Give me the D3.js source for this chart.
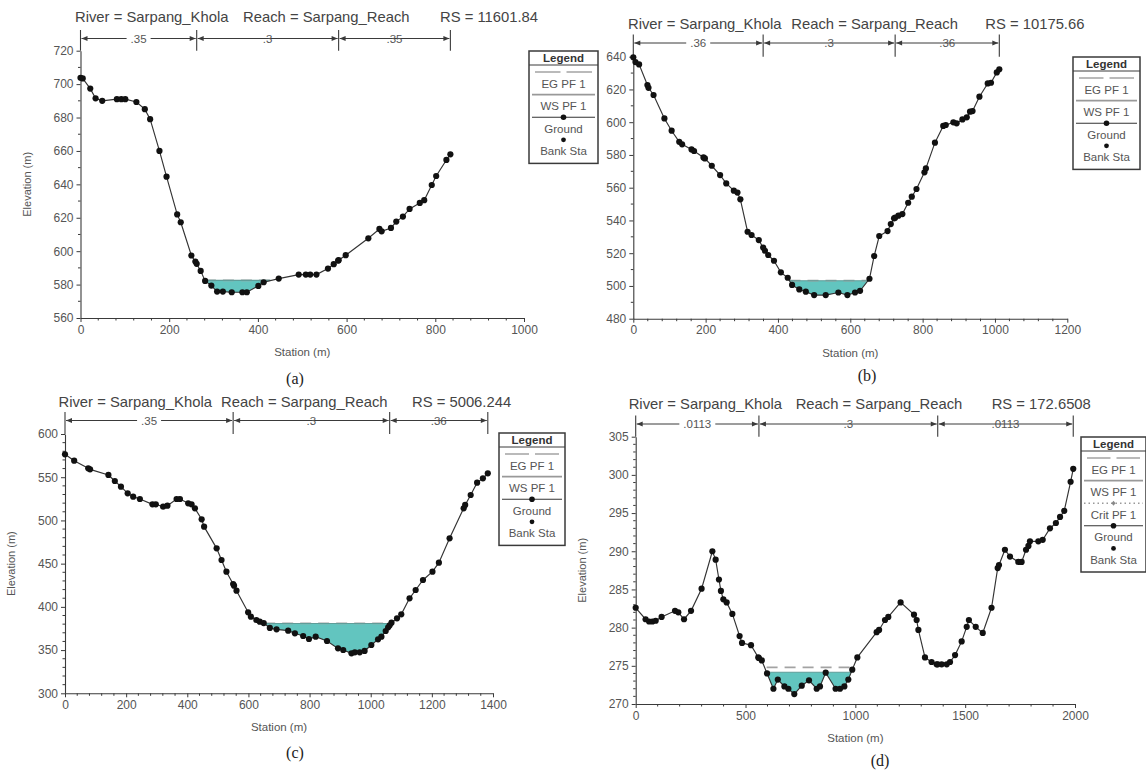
<!DOCTYPE html>
<html>
<head>
<meta charset="utf-8">
<script src="https://cdn.jsdelivr.net/npm/d3@7"></script>
<style>
  html, body { margin: 0; padding: 0; background: #fff; }
  svg { display: block; }
  text { font-family: "Liberation Sans", Arial, "DejaVu Sans", sans-serif; }
</style>
</head>
<body>
<svg id="chart" width="1146" height="771"></svg>
<script>
// ---------------- DATA ----------------
const riverName = "Sarpang_Khola";
const reachName = "Sarpang_Reach";
const rsValues = ["11601.84", "10175.66", "5006.244", "172.6508"];
const captions = ["(a)", "(b)", "(c)", "(d)"];

const stationA = [0,5,22,34,49,82,92,101,126,145,157,178,194,218,226,250,259,271,281,295,308,321,341,365,375,401,413,447,492,508,518,532,558,571,581,598,649,674,679,700,712,727,742,765,775,792,802,825,834];
const elevA = [703.8,703.4,697.3,691.5,690,691,691,691,689.3,685,679,660,644.6,622,617.3,597.4,593.8,588.2,582.2,579.4,575.8,575.8,575.4,575.4,575.4,579.2,581.4,583.6,586,586,586,586,589.6,592.2,594.4,597.6,607.7,613.3,611.9,613.9,617.7,620.7,625.3,628.9,630.5,639.6,645,654.6,658];

const stationB = [0,6,16,39,42,56,86,106,127,135,161,168,194,198,217,240,257,278,288,296,316,327,347,364,373,389,408,427,439,459,477,500,532,567,592,613,627,653,666,680,703,712,721,733,744,760,770,783,805,809,834,857,864,885,894,910,922,931,938,957,980,989,1005,1012];
const elevB = [639.6,636.7,635.3,622.7,621,616.6,602.3,594.8,588,586.5,583.4,582.4,578.5,577.9,573.4,567.7,562.6,558.2,557,552.9,533.1,531.1,528,521.5,518.9,515.4,508.3,505,500.6,497.9,496.5,494.4,494.4,496,494.4,496,497,504.4,518.3,530.5,533.5,537.8,541.3,542.9,543.9,550.8,554.5,559.2,569.4,571.8,587.5,597.7,598.3,599.9,599.3,601.7,603,606.4,606.8,615.6,623.7,624.1,630.4,632.3];

const stationC = [0,30,76,82,142,163,183,205,223,245,286,297,321,335,365,376,403,414,425,447,455,496,512,528,553,561,599,608,626,637,650,670,692,730,752,779,798,820,857,893,910,937,948,964,980,1002,1024,1035,1049,1057,1068,1086,1100,1127,1147,1171,1202,1223,1258,1304,1309,1327,1348,1367,1383];
const elevC = [576.5,569.1,560.3,559.1,552.6,545.6,539.1,531.4,527.5,524.8,518.6,518.6,515.9,517.1,524.8,524.8,519.8,518.6,514,501.3,492.8,467.7,454.2,440.7,424.5,418.7,393.7,388.7,384.8,382.9,381.2,375.6,374,372.5,369.4,366.3,362.8,365.5,360.5,352,350.1,346.2,347.4,347.4,349,355.9,362.4,365.5,372.1,376.3,381.7,386.7,391.4,409.9,419.5,431.1,440.7,451.1,479.3,514,517.9,529.4,543.7,548.7,554.5];

const stationD = [0,45,61,76,91,118,179,194,220,252,300,349,364,379,388,399,414,440,473,484,525,558,574,598,627,647,677,695,722,756,789,824,839,865,910,930,950,968,986,1009,1097,1108,1135,1150,1206,1267,1279,1287,1317,1347,1370,1393,1416,1431,1454,1484,1507,1517,1548,1580,1620,1648,1654,1681,1704,1742,1757,1777,1788,1795,1833,1853,1886,1913,1932,1951,1980,1992];
const elevD = [282.6,281.1,280.8,280.8,280.9,281.4,282.2,282,281.1,282.2,285.1,290,288.9,286.3,284.8,283.7,283.3,281.8,278.9,278,277.7,276.1,275.7,274,272,273.2,272.3,272,271.3,272.4,273.1,272,272.3,274.1,272,272,272.3,273.2,274.5,276.1,279.4,279.7,281,281.4,283.3,281.7,281,279.7,276.1,275.5,275.2,275.2,275.2,275.5,276.4,278.2,280.1,281,280.1,279.3,282.6,287.8,288.2,290.2,289.3,288.6,288.6,290.2,290.7,291.3,291.3,291.5,293,293.7,294.5,295.3,299.1,300.8];

const wsElev = [582.5, 503.2, 380.8, 274.15];   // WS PF 1
const egElev = [582.55, 503.25, 380.85, 274.8]; // EG PF 1

const bankA = [262, 582];
const bankB = [359, 724];
const bankC = [550, 1062];
const bankD = [561, 1375];

const manningA = [".35", ".3", ".35"];
const manningB = [".36", ".3", ".36"];
const manningC = [".35", ".3", ".36"];
const manningD = [".0113", ".3", ".0113"];

const xTicksA = [0,200,400,600,800,1000];
const xTicksB = [0,200,400,600,800,1000,1200];
const xTicksC = [0,200,400,600,800,1000,1200,1400];
const xTicksD = [0,500,1000,1500,2000];
const yTicksA = [560,580,600,620,640,660,680,700,720];
const yTicksB = [480,500,520,540,560,580,600,620,640];
const yTicksC = [300,350,400,450,500,550,600];
const yTicksD = [270,275,280,285,290,295,300,305];

const legendItemsABC = ["EG PF 1", "WS PF 1", "Ground", "Bank Sta"];
const legendItemsD = ["EG PF 1", "WS PF 1", "Crit PF 1", "Ground", "Bank Sta"];

// ---------------- LAYOUT / STYLE ----------------
const layouts = [
  {x0:80.5, x1:524, yB:318, yT:50.7, titleY:17, titleDx:[-5.5,162.5,359.5], brY:38.5, leg:[529,51,69], capX:295, capY:378, xMinor:40, yMinor:10, yLabel:true},
  {x0:633.3, x1:1067.3, yB:318.7, yT:56.7, titleY:24, titleDx:[-5.3,158,352], brY:43, leg:[1073,57,67], capX:867, capY:375, xMinor:40, yMinor:10, yLabel:false},
  {x0:65, x1:493, yB:693.3, yT:434, titleY:402, titleDx:[-6.5,156,347], brY:420.5, leg:[499,433,66], capX:295, capY:752, xMinor:40, yMinor:10, yLabel:true},
  {x0:635.7, x1:1075, yB:704, yT:436.7, titleY:404, titleDx:[-7,160,356], brY:424, leg:[1081,437,65], capX:880, capY:760, xMinor:100, yMinor:1, yLabel:true}
];

const panels = [
  {st:stationA, el:elevA, banks:bankA, n:manningA, xt:xTicksA, yt:yTicksA, legend:legendItemsABC},
  {st:stationB, el:elevB, banks:bankB, n:manningB, xt:xTicksB, yt:yTicksB, legend:legendItemsABC},
  {st:stationC, el:elevC, banks:bankC, n:manningC, xt:xTicksC, yt:yTicksC, legend:legendItemsABC},
  {st:stationD, el:elevD, banks:bankD, n:manningD, xt:xTicksD, yt:yTicksD, legend:legendItemsD}
];

const C = {
  axis: "#3a3a3a", tickText: "#555", title: "#444", ground: "#333", marker: "#111",
  water: "#62c5bf", ws: "#5f9d99", eg: "#a3a3a3", legBorder: "#3a3a3a", legText: "#555"
};

const svg = d3.select("#chart");
const legendLayer = [];

function wetted(st, el, ws) {
  const iMin = d3.minIndex(el);
  let L = iMin; while (L > 0 && el[L-1] < ws) L--;
  let R = iMin; while (R < st.length - 1 && el[R+1] < ws) R++;
  const xl = L > 0 ? st[L-1] + (ws - el[L-1]) * (st[L] - st[L-1]) / (el[L] - el[L-1]) : st[0];
  const xr = R < st.length - 1 ? st[R] + (ws - el[R]) * (st[R+1] - st[R]) / (el[R+1] - el[R]) : st[R];
  const pts = [[xl, ws]];
  for (let i = L; i <= R; i++) pts.push([st[i], el[i]]);
  pts.push([xr, ws]);
  return {pts, xl, xr};
}

function interpGround(st, el, s) {
  const i = d3.bisectLeft(st, s);
  if (i <= 0) return el[0];
  if (i >= st.length) return el[el.length-1];
  return el[i-1] + (s - st[i-1]) * (el[i] - el[i-1]) / (st[i] - st[i-1]);
}

panels.forEach((p, k) => {
  const L = layouts[k];
  const xDom = d3.extent(p.xt), yDom = d3.extent(p.yt);
  const x = d3.scaleLinear().domain(xDom).range([L.x0, L.x1]);
  const y = d3.scaleLinear().domain(yDom).range([L.yB, L.yT]);
  const g = svg.append("g");

  // Title
  const tpieces = ["River = " + riverName, "Reach = " + reachName, "RS = " + rsValues[k]];
  tpieces.forEach((t, i) => {
    g.append("text").attr("x", L.x0 + L.titleDx[i]).attr("y", L.titleY)
      .attr("dominant-baseline", "central").attr("font-size", 14.8).attr("fill", C.title).text(t);
  });

  // Water fill
  const w = wetted(p.st, p.el, wsElev[k]);
  const line = d3.line().x(d => x(d[0])).y(d => y(d[1]));
  g.append("path").attr("d", line(w.pts) + "Z").attr("fill", C.water).attr("stroke", "none");
  // EG line
  g.append("path").attr("d", line([[w.xl, egElev[k]], [w.xr, egElev[k]]]))
    .attr("stroke", C.eg).attr("stroke-width", 1.6).attr("stroke-dasharray", "11,7").attr("fill", "none");
  // WS line
  g.append("path").attr("d", line([[w.xl, wsElev[k]], [w.xr, wsElev[k]]]))
    .attr("stroke", C.ws).attr("stroke-width", 1.1).attr("fill", "none");

  // Axes
  const xAxis = d3.axisBottom(x).tickValues(p.xt).tickSize(4).tickPadding(3).tickSizeOuter(0).tickFormat(d3.format("d"));
  const yAxis = d3.axisLeft(y).tickValues(p.yt).tickSize(4).tickPadding(3).tickSizeOuter(0).tickFormat(d3.format("d"));
  const gx = g.append("g").attr("transform", `translate(0,${L.yB})`).call(xAxis);
  const gy = g.append("g").attr("transform", `translate(${L.x0},0)`).call(yAxis);
  [gx, gy].forEach(a => {
    a.select(".domain").attr("stroke", C.axis).attr("stroke-width", 1.1);
    a.selectAll(".tick line").attr("stroke", C.axis);
    a.selectAll(".tick text").attr("fill", C.tickText).attr("font-size", 12)
      .attr("font-family", '"Liberation Sans", Arial, sans-serif');
  });
  // minor ticks
  const xMinor = d3.range(xDom[0], xDom[1] + 1e-9, L.xMinor).filter(v => !p.xt.includes(v));
  g.append("g").selectAll("line").data(xMinor).join("line")
    .attr("x1", d => x(d)).attr("x2", d => x(d)).attr("y1", L.yB).attr("y2", L.yB + 2.5)
    .attr("stroke", C.axis);
  const yMinor = d3.range(yDom[0], yDom[1] + 1e-9, L.yMinor).filter(v => !p.yt.includes(v));
  g.append("g").selectAll("line").data(yMinor).join("line")
    .attr("x1", L.x0 - 2.5).attr("x2", L.x0).attr("y1", d => y(d)).attr("y2", d => y(d))
    .attr("stroke", C.axis);

  // Axis labels
  g.append("text").attr("x", (L.x0 + L.x1) / 2).attr("y", L.yB + 34).attr("text-anchor", "middle")
    .attr("dominant-baseline", "central").attr("font-size", 11.5).attr("fill", C.tickText).text("Station (m)");
  if (L.yLabel) {
    g.append("text").attr("transform", `translate(${L.x0 - 54},${(L.yB + L.yT) / 2}) rotate(-90)`)
      .attr("text-anchor", "middle").attr("dominant-baseline", "central").attr("font-size", 11)
      .attr("fill", C.tickText).text("Elevation (m)");
  }
  // Caption
  g.append("text").attr("x", L.capX).attr("y", L.capY).attr("text-anchor", "middle")
    .attr("dominant-baseline", "central").attr("font-size", 16).attr("fill", "#222")
    .style("font-family", '"Liberation Serif", "Times New Roman", serif').text(captions[k]);

  // Manning's n bracket
  const bounds = [p.st[0], p.banks[0], p.banks[1], p.st[p.st.length - 1]];
  const bg = g.append("g");
  bounds.forEach(b => {
    bg.append("line").attr("x1", x(b)).attr("x2", x(b)).attr("y1", L.brY - 8.5).attr("y2", L.yT)
      .attr("stroke", C.axis).attr("stroke-width", 1.1);
  });
  for (let i = 0; i < 3; i++) {
    const xs = x(bounds[i]) + 1, xe = x(bounds[i+1]) - 1, yb = L.brY;
    bg.append("line").attr("x1", xs).attr("x2", xe).attr("y1", yb).attr("y2", yb)
      .attr("stroke", C.axis).attr("stroke-width", 1);
    bg.append("path").attr("d", `M${xs},${yb}L${xs+6},${yb-2.6}L${xs+6},${yb+2.6}Z`).attr("fill", C.axis);
    bg.append("path").attr("d", `M${xe},${yb}L${xe-6},${yb-2.6}L${xe-6},${yb+2.6}Z`).attr("fill", C.axis);
    const lbl = bg.append("text").attr("x", (xs + xe) / 2).attr("y", yb).attr("text-anchor", "middle")
      .attr("dominant-baseline", "central").attr("font-size", 11.5).attr("fill", C.tickText).text(p.n[i]);
    const tw = lbl.node().getComputedTextLength();
    bg.insert("rect", "text").attr("x", (xs + xe) / 2 - tw / 2 - 4).attr("y", yb - 4).attr("width", tw + 8)
      .attr("height", 8).attr("fill", "#fff");
  }

  // Ground line
  g.append("path").datum(p.st.map((s, i) => [s, p.el[i]])).attr("d", line)
    .attr("fill", "none").attr("stroke", C.ground).attr("stroke-width", 1.15);
  g.append("g").selectAll("circle").data(p.st.map((s, i) => [s, p.el[i]])).join("circle")
    .attr("cx", d => x(d[0])).attr("cy", d => y(d[1])).attr("r", 3.1).attr("fill", C.marker);
  // Bank stations
  g.append("g").selectAll("circle").data(p.banks).join("circle")
    .attr("cx", d => x(d)).attr("cy", d => y(interpGround(p.st, p.el, d))).attr("r", 3.1).attr("fill", C.marker);

  legendLayer.push({L, items: p.legend});
});

// Legends (drawn on top)
legendLayer.forEach(({L, items}) => {
  const [lx, ly, lw] = L.leg;
  const rowH = 22.6;
  const h = 13 + items.length * rowH + 9;
  const g = svg.append("g");
  g.append("rect").attr("x", lx).attr("y", ly).attr("width", lw).attr("height", h)
    .attr("fill", "#fff").attr("stroke", C.legBorder).attr("stroke-width", 1.5);
  g.append("text").attr("x", lx + lw / 2).attr("y", ly + 7).attr("text-anchor", "middle")
    .attr("dominant-baseline", "central").attr("font-size", 11.5).attr("font-weight", "bold")
    .attr("fill", "#333").text("Legend");
  g.append("line").attr("x1", lx).attr("x2", lx + lw).attr("y1", ly + 14).attr("y2", ly + 14)
    .attr("stroke", C.legBorder).attr("stroke-width", 1);
  items.forEach((name, i) => {
    const yl = ly + 21 + i * rowH;
    const cx = lx + lw / 2;
    if (name.startsWith("EG")) {
      g.append("line").attr("x1", lx + 6).attr("x2", cx - 3).attr("y1", yl).attr("y2", yl)
        .attr("stroke", C.eg).attr("stroke-width", 1.5);
      g.append("line").attr("x1", cx + 3).attr("x2", lx + lw - 6).attr("y1", yl).attr("y2", yl)
        .attr("stroke", C.eg).attr("stroke-width", 1.5);
    } else if (name.startsWith("WS")) {
      g.append("line").attr("x1", lx + 3).attr("x2", lx + lw - 3).attr("y1", yl).attr("y2", yl)
        .attr("stroke", "#999").attr("stroke-width", 1.8);
    } else if (name.startsWith("Crit")) {
      g.append("line").attr("x1", lx + 3).attr("x2", lx + lw - 3).attr("y1", yl).attr("y2", yl)
        .attr("stroke", "#999").attr("stroke-width", 1.5).attr("stroke-dasharray", "1.5,3");
      g.append("path").attr("d", `M${cx},${yl-2.5}L${cx+2},${yl}L${cx},${yl+2.5}L${cx-2},${yl}Z`).attr("fill", "#888");
    } else if (name === "Ground") {
      g.append("line").attr("x1", lx + 3).attr("x2", lx + lw - 3).attr("y1", yl).attr("y2", yl)
        .attr("stroke", C.ground).attr("stroke-width", 1.1);
      g.append("circle").attr("cx", cx).attr("cy", yl).attr("r", 2.8).attr("fill", C.marker);
    } else {
      g.append("circle").attr("cx", cx).attr("cy", yl).attr("r", 2.4).attr("fill", C.marker);
    }
    g.append("text").attr("x", cx).attr("y", yl + 11.5).attr("text-anchor", "middle")
      .attr("dominant-baseline", "central").attr("font-size", 11.5).attr("fill", C.legText).text(name);
  });
});
</script>
</body>
</html>
